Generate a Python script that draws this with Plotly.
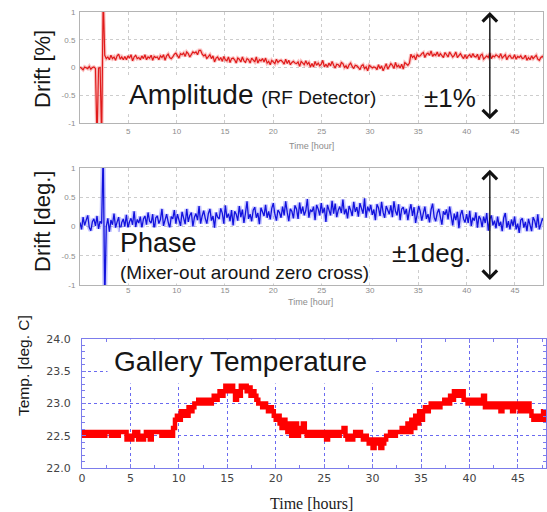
import plotly.graph_objects as go

W, H = 547, 512

# ---------------- data ----------------
AMP_DT = 0.16  # hours between samples
amplitude_drift = [
    0.01, -0.02, -0.04, 0.01, 0.00, -0.02, 0.02, -0.03, 0.00, 0.01,
    -0.02, -1.30, -0.01, 0.00, -1.30, 1.30, 0.22, 0.16, 0.19, 0.14,
    0.22, 0.16, 0.19, 0.13, 0.21, 0.24, 0.15, 0.19, 0.14, 0.20,
    0.14, 0.21, 0.17, 0.23, 0.12, 0.19, 0.22, 0.16, 0.18, 0.14,
    0.21, 0.16, 0.23, 0.14, 0.19, 0.17, 0.22, 0.13, 0.20, 0.18,
    0.19, 0.14, 0.21, 0.18, 0.23, 0.13, 0.21, 0.24, 0.18, 0.16,
    0.19, 0.24, 0.26, 0.21, 0.17, 0.25, 0.23, 0.26, 0.20, 0.28,
    0.25, 0.19, 0.24, 0.28, 0.26, 0.28, 0.23, 0.31, 0.31, 0.24,
    0.21, 0.23, 0.16, 0.20, 0.23, 0.16, 0.21, 0.10, 0.17, 0.19,
    0.13, 0.18, 0.11, 0.20, 0.14, 0.12, 0.19, 0.09, 0.16, 0.17,
    0.14, 0.08, 0.17, 0.15, 0.10, 0.19, 0.12, 0.09, 0.16, 0.14,
    0.08, 0.17, 0.13, 0.10, 0.19, 0.08, 0.14, 0.12, 0.16, 0.10,
    0.17, 0.08, 0.11, 0.05, 0.13, 0.10, 0.07, 0.15, 0.09, 0.12,
    0.13, 0.10, 0.06, 0.15, 0.07, 0.13, 0.05, 0.09, 0.11, 0.08,
    0.07, 0.10, 0.02, 0.11, 0.08, 0.05, 0.12, 0.06, 0.09, 0.01,
    0.07, 0.01, 0.11, 0.04, 0.08, 0.03, 0.06, 0.13, 0.01, 0.06,
    0.01, 0.08, 0.03, 0.11, 0.04, -0.01, 0.06, 0.05, 0.01, 0.09,
    0.07, 0.00, 0.03, -0.02, 0.05, 0.08, 0.02, -0.02, 0.04, 0.03,
    0.00, -0.04, 0.03, 0.05, -0.02, 0.01, -0.06, 0.04, 0.02, -0.01,
    0.01, 0.00, -0.04, 0.05, -0.02, 0.03, -0.06, 0.00, 0.07, -0.03,
    0.01, 0.07, 0.04, -0.02, 0.09, 0.01, 0.04, -0.01, 0.06, -0.03,
    0.09, 0.07, 0.04, 0.08, 0.24, 0.18, 0.21, 0.14, 0.23, 0.20,
    0.21, 0.25, 0.27, 0.18, 0.24, 0.26, 0.22, 0.30, 0.20, 0.24,
    0.22, 0.28, 0.20, 0.25, 0.21, 0.18, 0.27, 0.23, 0.19, 0.28,
    0.24, 0.19, 0.22, 0.28, 0.18, 0.22, 0.25, 0.20, 0.16, 0.23,
    0.16, 0.21, 0.23, 0.18, 0.25, 0.20, 0.19, 0.24, 0.14, 0.22,
    0.24, 0.15, 0.19, 0.21, 0.18, 0.26, 0.16, 0.21, 0.19, 0.23,
    0.21, 0.18, 0.25, 0.17, 0.20, 0.23, 0.14, 0.20, 0.22, 0.17,
    0.17, 0.23, 0.15, 0.20, 0.18, 0.21, 0.16, 0.17, 0.22, 0.13,
    0.18, 0.14, 0.21, 0.16, 0.19, 0.22, 0.15, 0.13, 0.18, 0.20,
    0.17,
]

PH_DT = 0.16  # hours between samples
phase_drift = [
    0.07, -0.05, 0.16, 0.02, 0.11, 0.19, -0.02, -0.07, 0.08, 0.13,
    0.01, 0.18, -0.04, 0.09, 0.05, 1.30, -1.30, 0.00, 0.14, -0.09,
    0.11, 0.03, 0.22, -0.02, 0.08, 0.16, -0.09, 0.07, 0.13, 0.00,
    0.20, -0.03, 0.08, 0.14, 0.03, 0.26, -0.01, 0.12, 0.06, 0.17,
    -0.03, 0.13, 0.18, 0.03, 0.24, 0.09, 0.06, 0.21, -0.07, 0.15,
    0.18, 0.05, 0.12, 0.30, 0.01, 0.14, 0.21, 0.08, -0.03, 0.17,
    0.13, 0.28, 0.05, 0.21, 0.08, 0.01, 0.25, 0.15, 0.04, 0.30,
    0.08, 0.19, 0.24, 0.00, 0.16, 0.22, 0.11, 0.35, 0.05, 0.18,
    0.27, 0.14, 0.05, 0.22, 0.30, 0.10, 0.18, -0.02, 0.24, 0.16,
    0.13, 0.31, 0.23, 0.05, 0.36, 0.15, 0.22, 0.09, 0.28, 0.02,
    0.26, 0.21, 0.10, 0.35, 0.16, 0.29, 0.06, 0.23, 0.43, 0.13,
    0.21, 0.09, 0.28, 0.33, 0.15, 0.23, 0.04, 0.32, 0.26, 0.18,
    0.37, 0.15, 0.26, 0.12, 0.31, 0.40, 0.21, 0.10, 0.28, 0.24,
    0.15, 0.34, 0.19, 0.43, 0.24, 0.09, 0.30, 0.26, 0.14, 0.36,
    0.30, 0.13, 0.41, 0.22, 0.34, 0.19, 0.27, 0.47, 0.15, 0.29,
    0.25, 0.34, 0.11, 0.37, 0.30, 0.19, 0.40, 0.23, 0.32, 0.08,
    0.37, 0.29, 0.19, 0.44, 0.22, 0.39, 0.16, 0.28, 0.34, 0.23,
    0.46, 0.21, 0.30, 0.14, 0.35, 0.28, 0.18, 0.42, 0.25, 0.33,
    0.17, 0.40, 0.31, 0.22, 0.48, 0.15, 0.34, 0.26, 0.37, 0.20,
    0.29, 0.11, 0.38, 0.32, 0.18, 0.42, 0.24, 0.15, 0.35, 0.28,
    0.21, 0.36, 0.16, 0.43, 0.26, 0.19, 0.38, 0.11, 0.30, 0.33,
    0.21, 0.30, 0.11, 0.27, 0.38, 0.18, 0.33, 0.06, 0.25, 0.35,
    0.26, 0.10, 0.23, 0.34, 0.13, 0.21, 0.07, 0.29, 0.39, 0.16,
    0.09, 0.23, 0.30, 0.15, 0.03, 0.26, 0.20, 0.29, 0.12, 0.34,
    0.16, 0.02, 0.22, 0.11, 0.25, -0.03, 0.20, 0.28, 0.13, 0.07,
    0.21, 0.06, 0.27, 0.01, 0.15, 0.10, 0.24, -0.02, 0.18, 0.13,
    -0.01, 0.17, 0.06, 0.23, -0.07, 0.13, 0.19, 0.02, 0.10, -0.03,
    0.17, 0.01, 0.08, -0.08, 0.15, 0.23, -0.02, 0.09, -0.05, 0.12,
    0.01, 0.17, -0.05, 0.05, -0.11, 0.11, 0.14, -0.02, 0.08, -0.08,
    0.13, 0.03, -0.08, 0.16, 0.10, -0.02, 0.21, -0.05, 0.07, 0.14,
    0.08,
]

TEMP_DT = 0.2  # hours between samples
gallery_temperature = [
    22.56, 22.5, 22.56, 22.5, 22.5, 22.56, 22.5, 22.56, 22.5, 22.56,
    22.5, 22.5, 22.56, 22.56, 22.56, 22.5, 22.5, 22.56, 22.5, 22.56,
    22.56, 22.56, 22.56, 22.44, 22.5, 22.44, 22.5, 22.56, 22.56, 22.44,
    22.5, 22.44, 22.5, 22.56, 22.5, 22.44, 22.56, 22.56, 22.56, 22.56,
    22.56, 22.5, 22.56, 22.5, 22.5, 22.56, 22.5, 22.62, 22.75, 22.81,
    22.75, 22.88, 22.81, 22.88, 22.81, 22.94, 22.88, 22.94, 23.0, 23.0,
    23.06, 23.0, 23.06, 23.0, 23.06, 23.06, 23.0, 23.06, 23.12, 23.06,
    23.12, 23.19, 23.12, 23.19, 23.31, 23.19, 23.25, 23.31, 23.19, 23.06,
    23.19, 23.12, 23.31, 23.25, 23.31, 23.19, 23.25, 23.12, 23.19, 23.12,
    23.06, 23.0, 23.0, 22.94, 23.0, 22.94, 22.88, 22.94, 22.88, 22.81,
    22.75, 22.81, 22.69, 22.62, 22.75, 22.62, 22.56, 22.69, 22.5, 22.56,
    22.69, 22.5, 22.56, 22.62, 22.69, 22.56, 22.5, 22.56, 22.5, 22.56,
    22.5, 22.56, 22.56, 22.5, 22.56, 22.5, 22.44, 22.56, 22.56, 22.5,
    22.56, 22.56, 22.5, 22.56, 22.56, 22.62, 22.5, 22.44, 22.5, 22.44,
    22.5, 22.56, 22.5, 22.56, 22.5, 22.44, 22.5, 22.44, 22.38, 22.44,
    22.31, 22.44, 22.38, 22.44, 22.31, 22.38, 22.44, 22.5, 22.5, 22.56,
    22.56, 22.5, 22.56, 22.56, 22.56, 22.62, 22.56, 22.62, 22.69, 22.56,
    22.75, 22.62, 22.81, 22.69, 22.88, 22.75, 22.88, 22.94, 22.88, 22.94,
    23.0, 22.94, 23.0, 23.0, 22.94, 23.0, 23.0, 23.06, 23.06, 23.0,
    23.12, 23.06, 23.19, 23.12, 23.19, 23.12, 23.19, 23.06, 23.06, 23.0,
    23.06, 23.06, 23.0, 23.06, 23.06, 23.0, 23.06, 23.12, 22.94, 23.0,
    22.94, 23.0, 22.94, 23.0, 23.0, 22.94, 22.88, 23.0, 22.94, 23.0,
    22.94, 23.0, 22.88, 23.0, 22.94, 23.0, 22.88, 23.0, 22.94, 22.88,
    23.0, 22.88, 22.81, 22.75, 22.81, 22.81, 22.75, 22.81, 22.88, 22.75,
    22.81,
]

drift_ticks = [-1, -0.5, 0, 0.5, 1]
drift_ticktext = ["-1", "-0.5", "0", "0.5", "1"]
hour_ticks = [5, 10, 15, 20, 25, 30, 35, 40, 45]
temp_x_ticks = [0, 5, 10, 15, 20, 25, 30, 35, 40, 45]
temp_y_ticks = [22.0, 22.5, 23.0, 23.5, 24.0]


# ---------------- layout helpers ----------------
def px(x):
    return x / W


def py(y):
    return 1 - y / H


SANS = "Liberation Sans, Arial, sans-serif"
BLUE_AX = "#7c7cec"

fig = go.Figure()

# amplitude
fig.add_trace(go.Scatter(x0=0, dx=AMP_DT, y=amplitude_drift, mode="lines",
                         line=dict(color="rgba(240,80,80,0.35)", width=3.5),
                         xaxis="x", yaxis="y", hoverinfo="skip"))
fig.add_trace(go.Scatter(x0=0, dx=AMP_DT, y=amplitude_drift, mode="lines",
                         line=dict(color="#e01a1a", width=1.2),
                         xaxis="x", yaxis="y"))
# phase
fig.add_trace(go.Scatter(x0=0, dx=PH_DT, y=phase_drift, mode="lines",
                         line=dict(color="rgba(90,90,255,0.35)", width=4.5),
                         xaxis="x2", yaxis="y2", hoverinfo="skip"))
fig.add_trace(go.Scatter(x0=0, dx=PH_DT, y=phase_drift, mode="lines",
                         line=dict(color="#1212dd", width=1.3),
                         xaxis="x2", yaxis="y2"))
# temperature
fig.add_trace(go.Scatter(x0=0, dx=TEMP_DT, y=gallery_temperature, mode="lines",
                         line=dict(color="#ff0000", width=4.5, shape="hv"),
                         xaxis="x3", yaxis="y3"))

gray_axis = dict(showline=True, mirror=True, linecolor="#b4b4b4", linewidth=1,
                 showgrid=True, gridcolor="#cdcdcd", griddash="dot", gridwidth=1,
                 zeroline=False, ticks="", automargin=False,
                 tickfont=dict(family=SANS, size=8, color="#8c8c8c"))

blue_axis = dict(showline=True, mirror="ticks", linecolor=BLUE_AX, linewidth=1,
                 showgrid=True, gridcolor="#6a6af0", griddash="dot", gridwidth=1,
                 zeroline=False, ticks="inside", ticklen=4, tickcolor=BLUE_AX,
                 automargin=False,
                 tickfont=dict(family="DejaVu Sans, sans-serif", size=11, color="#444444"))

fig.update_layout(
    template="none",
    width=W, height=H,
    margin=dict(l=0, r=0, t=0, b=0, pad=0, autoexpand=False),
    paper_bgcolor="white", plot_bgcolor="white",
    showlegend=False,
    xaxis=dict(gray_axis, domain=[px(80), px(543)], range=[0, 47.9],
               tickvals=hour_ticks, anchor="y", ticklabelstandoff=0),
    yaxis=dict(gray_axis, domain=[py(123), py(12)], range=[-1, 1],
               tickvals=drift_ticks, ticktext=drift_ticktext, anchor="x",
               ticklabelstandoff=2),
    xaxis2=dict(gray_axis, domain=[px(80), px(543)], range=[0, 47.9],
                tickvals=hour_ticks, anchor="y2", ticklabelstandoff=-3),
    yaxis2=dict(gray_axis, domain=[py(285), py(168)], range=[-1, 1],
                tickvals=drift_ticks, ticktext=drift_ticktext, anchor="x2",
                ticklabelstandoff=2),
    xaxis3=dict(blue_axis, domain=[px(82), px(546)], range=[0, 47.9],
                tickvals=temp_x_ticks, anchor="y3", ticklabelstandoff=0,
                minor=dict(dtick=2.5, ticks="inside", ticklen=3, tickcolor=BLUE_AX,
                           showgrid=False)),
    yaxis3=dict(blue_axis, domain=[py(468), py(339)], range=[22, 24],
                tickvals=temp_y_ticks, tickformat=".1f", anchor="x3",
                ticklabelstandoff=8,
                minor=dict(dtick=0.1, ticks="inside", ticklen=3, tickcolor=BLUE_AX,
                           showgrid=False)),
)

TXT = "#161616"
annotations = [
    # y-axis titles
    dict(text="Drift [%]", x=px(42), y=py(69), textangle=-90,
         font=dict(family=SANS, size=22, color=TXT)),
    dict(text="Drift [deg.]", x=px(42), y=py(222), textangle=-90,
         font=dict(family=SANS, size=22, color=TXT)),
    dict(text="Temp. [deg. C]", x=px(23), y=py(366), textangle=-90,
         font=dict(family=SANS, size=15.5, color=TXT)),
    # x-axis titles
    dict(text="Time [hour]", x=px(312), y=py(146),
         font=dict(family=SANS, size=9, color="#8c8c8c")),
    dict(text="Time [hour]", x=px(310), y=py(302),
         font=dict(family=SANS, size=9, color="#8c8c8c")),
    dict(text="Time [hours]", x=px(311), y=py(503),
         font=dict(family="Liberation Serif, Times New Roman, serif", size=16, color="#222222")),
    # panel labels
    dict(text="Amplitude <span style='font-size:19px'>(RF Detector)</span>",
         x=px(127), y=py(94), xanchor="left", bgcolor="white", borderpad=1,
         font=dict(family=SANS, size=28, color=TXT)),
    dict(text="±1%", x=px(450), y=py(98), bgcolor="white", borderpad=0,
         font=dict(family=SANS, size=26, color=TXT)),
    dict(text="Phase", x=px(119), y=py(243), xanchor="left", bgcolor="white", borderpad=0,
         font=dict(family=SANS, size=27, color=TXT)),
    dict(text="(Mixer-out around zero cross)", x=px(119), y=py(272), xanchor="left",
         bgcolor="white", borderpad=0,
         font=dict(family=SANS, size=19, color=TXT)),
    dict(text="±1deg.", x=px(431), y=py(253), bgcolor="white", borderpad=0,
         font=dict(family=SANS, size=26, color=TXT)),
    dict(text="Gallery Temperature", x=px(240), y=py(361), bgcolor="white", borderpad=6,
         font=dict(family=SANS, size=28, color=TXT)),
]
for a in annotations:
    a.setdefault("xref", "paper")
    a.setdefault("yref", "paper")
    a.setdefault("xanchor", "center")
    a.setdefault("yanchor", "middle")
    a.setdefault("showarrow", False)

# double-headed span arrows (±1 in data units)
annotations += [
    dict(text="", xref="x", yref="y", axref="x", ayref="y",
         x=42.4, y=1.0, ax=42.4, ay=-0.96, showarrow=True,
         arrowside="end+start", arrowhead=4, startarrowhead=4,
         arrowsize=2, startarrowsize=2, arrowwidth=1.4, arrowcolor="#111111"),
    dict(text="", xref="x2", yref="y2", axref="x2", ayref="y2",
         x=42.4, y=0.97, ax=42.4, ay=-0.94, showarrow=True,
         arrowside="end+start", arrowhead=4, startarrowhead=4,
         arrowsize=2, startarrowsize=2, arrowwidth=1.4, arrowcolor="#111111"),
]
fig.update_layout(annotations=annotations)

fig.write_html("out.html", config={"displayModeBar": False},
               post_script="document.body.style.margin='0px';")
